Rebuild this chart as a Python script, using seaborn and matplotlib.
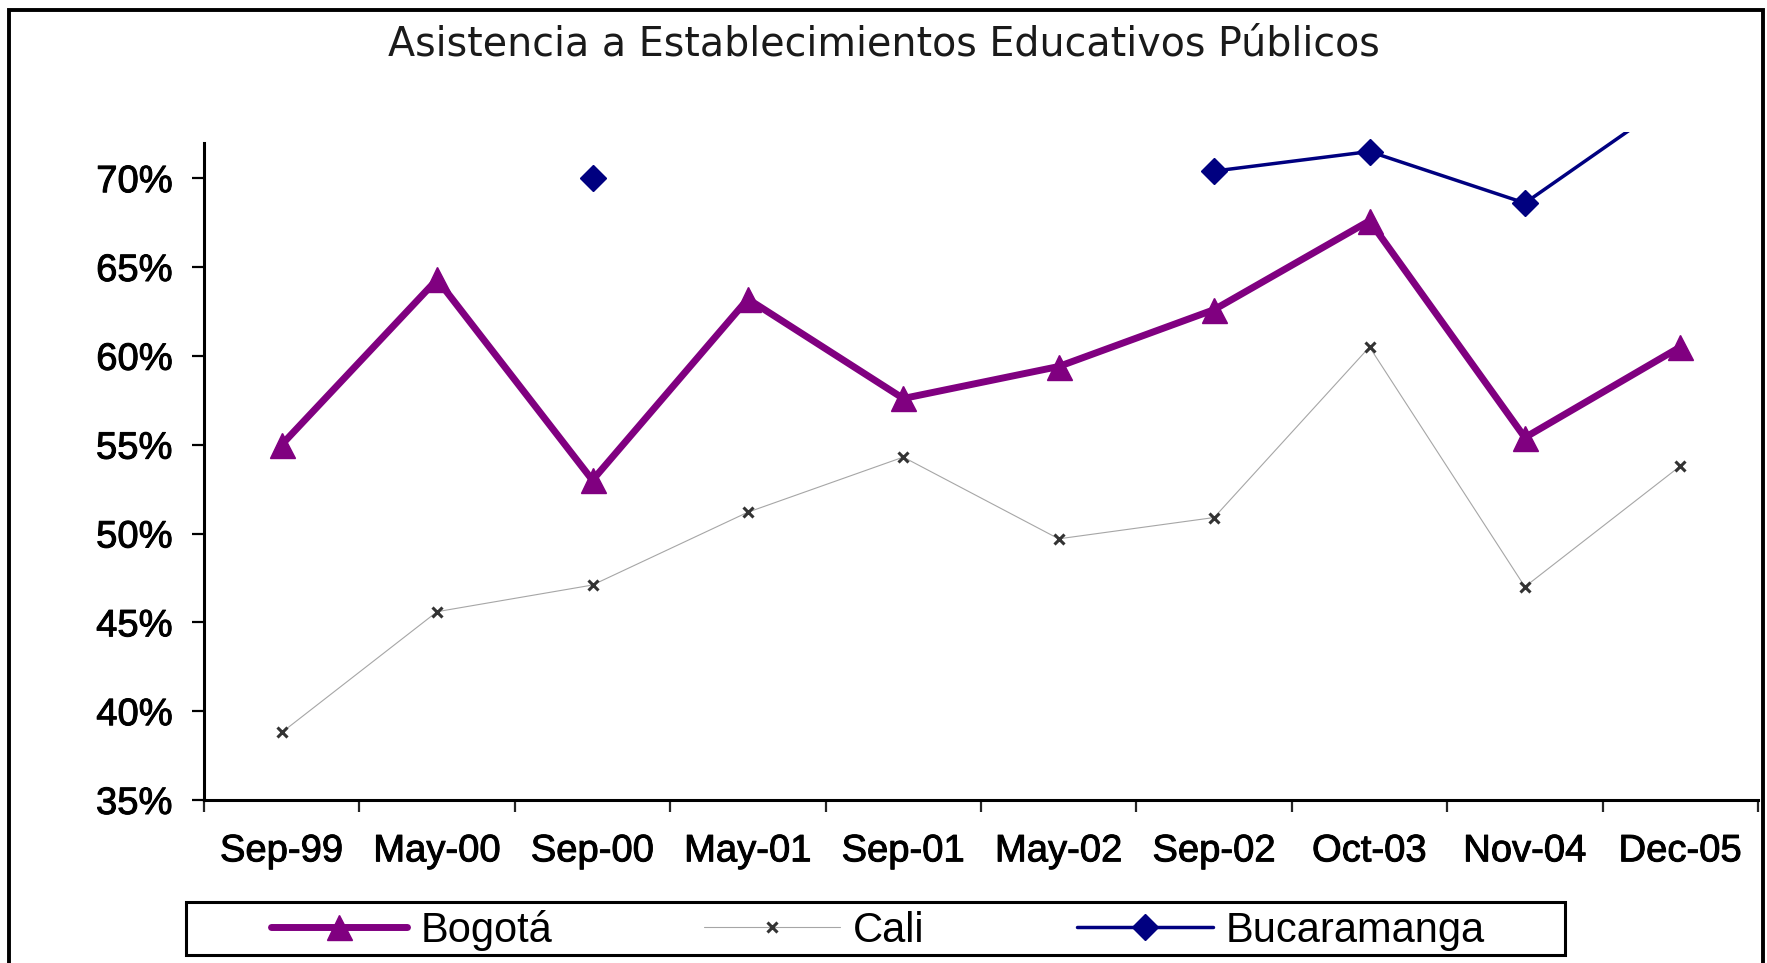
import numpy as np
import pandas as pd
import matplotlib
matplotlib.use("Agg")
import matplotlib.pyplot as plt
import matplotlib.patheffects as pe
from matplotlib.patches import Rectangle
from matplotlib.ticker import FixedLocator, PercentFormatter
import seaborn as sns

# Datos (% de asistencia)
fechas = ["Sep-99", "May-00", "Sep-00", "May-01", "Sep-01",
          "May-02", "Sep-02", "Oct-03", "Nov-04", "Dec-05"]
bogota = [55.0, 64.3, 53.0, 63.2, 57.6, 59.4, 62.6, 67.6, 55.4, 60.5]
cali = [38.8, 45.6, 47.1, 51.2, 54.3, 49.7, 50.9, 60.5, 47.0, 53.8]
bucaramanga = [np.nan, np.nan, 70.0, np.nan, np.nan, np.nan, 70.4, 71.5, 68.6, 74.7]

titulo = "Asistencia a Establecimientos Educativos Públicos"

W, H = 1767, 963
sns.set_theme(style="white")
plt.rcParams["font.family"] = ["Liberation Sans", "DejaVu Sans"]

fig = plt.figure(figsize=(W / 100, H / 100), dpi=100)
ax = fig.add_axes([204 / W, 1 - 800 / H, (1758 - 204) / W, (800 - 132) / H])

df = pd.DataFrame({
    "pos": np.arange(len(fechas)),
    "Bogotá": bogota,
    "Cali": cali,
    "Bucaramanga": bucaramanga,
})

# estilo de cada serie
estilos = {
    "Bogotá": dict(color="#800080", linewidth=5, marker="^", markersize=18,
                   markeredgewidth=1, markeredgecolor="#800080", zorder=3),
    "Cali": dict(color="#a6a6a6", linewidth=0.8, marker="x", markersize=7,
                 markeredgewidth=2.2, markeredgecolor="#333333", zorder=2),
    "Bucaramanga": dict(color="#000080", linewidth=2.5, marker="D", markersize=13.5,
                        markeredgewidth=1, markeredgecolor="#000080", zorder=4),
}

for serie, kw in estilos.items():
    d = df[["pos", serie]].copy()
    # cortar la linea donde faltan datos
    d["tramo"] = d[serie].isna().cumsum()
    sns.lineplot(data=d, x="pos", y=serie, units="tramo", estimator=None,
                 label=serie, legend=False, ax=ax, **kw)

# Ejes
ax.set_xlim(-0.5, len(fechas) - 0.5)
ax.set_ylim(35, 72.6)
ax.yaxis.set_major_locator(FixedLocator(np.arange(35, 71, 5)))
ax.yaxis.set_major_formatter(PercentFormatter(decimals=0))
ax.set_xticks(np.arange(len(fechas) + 1) - 0.5)
ax.set_xticklabels([])
ax.set_xticks(df["pos"], minor=True)
ax.set_xticklabels(fechas, minor=True)
ax.set_xlabel("")
ax.set_ylabel("")

ax.tick_params(axis="y", which="major", direction="out", length=8.5, width=1.6,
               pad=14, labelsize=27.5, colors="black", left=True)
ax.tick_params(axis="x", which="major", direction="out", length=8.5, width=1.6,
               bottom=True)
ax.tick_params(axis="x", which="minor", length=0, pad=24, labelsize=27.5,
               labelcolor="black", bottom=True)

# texto un poco mas grueso, como en el original
grueso = [pe.withStroke(linewidth=0.7, foreground="black")]
for t in ax.get_yticklabels() + ax.get_xticklabels(minor=True):
    t.set_path_effects(grueso)

for s in ["top", "right"]:
    ax.spines[s].set_visible(False)
for s in ["left", "bottom"]:
    ax.spines[s].set_linewidth(2.2)
    ax.spines[s].set_color("black")
ax.spines["left"].set_bounds(35, 72)

# Titulo
fig.text(0.5, 1 - 44 / H, titulo, ha="center", va="center", fontsize=28.5,
         family="DejaVu Sans", color="#1a1a1a")

# Leyenda
h, l = ax.get_legend_handles_labels()
uniq = dict(zip(l, h))
leg = ax.legend(list(uniq.values()), list(uniq.keys()), ncol=3, loc="center",
                bbox_to_anchor=(878 / W, 1 - 930 / H), bbox_transform=fig.transFigure,
                frameon=False, fontsize=30, handlelength=3.26, handletextpad=0.32,
                columnspacing=3.65, borderpad=0, numpoints=1)
for t in leg.get_texts():
    t.set_color("black")
fig.add_artist(Rectangle((186 / W, 1 - 955 / H), (1565 - 186) / W, (955 - 902) / H,
                         transform=fig.transFigure, fill=False, lw=2.2,
                         edgecolor="black"))

# Marco del grafico
fig.add_artist(Rectangle((9 / W, -0.05), (1763 - 9) / W, 1 - 10 / H + 0.05,
                         transform=fig.transFigure, fill=False, lw=2.8,
                         edgecolor="black"))

fig.savefig("out.png", dpi=100)
